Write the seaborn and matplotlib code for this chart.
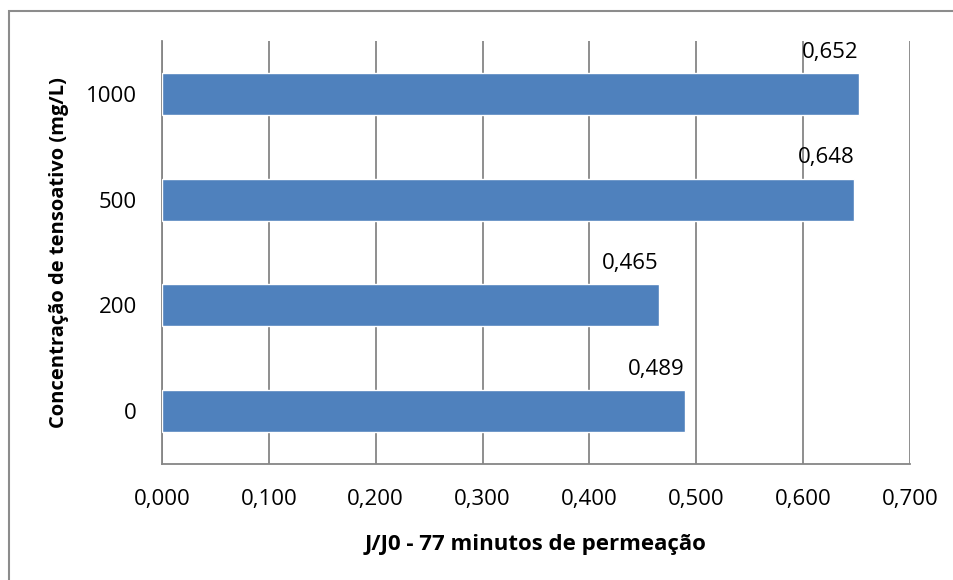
import matplotlib
matplotlib.use("Agg")
import matplotlib.pyplot as plt
from matplotlib.patches import Rectangle
from matplotlib.ticker import FuncFormatter
import seaborn as sns
import pandas as pd

# Surfactant concentration (mg/L) and normalised flux J/J0 after 77 min
categories = ["1000", "500", "200", "0"]
flux_ratio = [0.652, 0.648, 0.465, 0.489]
x_ticks = [0.0, 0.1, 0.2, 0.3, 0.4, 0.5, 0.6, 0.7]

df = pd.DataFrame({"conc": categories, "ratio": flux_ratio})

sns.set_theme(style="white")
plt.rcParams["font.family"] = ["Open Sans", "DejaVu Sans"]

W, H = 954, 580
fig = plt.figure(figsize=(W / 100, H / 100), dpi=100)
ax = fig.add_axes([162 / W, 1 - 464 / H, (910 - 162) / W, (464 - 41) / H])

bar_color = "#4F81BD"
grid_color = "#868686"
fs = 16

sns.barplot(data=df, x="ratio", y="conc", order=categories, orient="h",
            color=bar_color, saturation=1, width=0.395, ax=ax, zorder=3)

ax.set_xlim(0, 0.7)
ax.set_xticks(x_ticks)
ax.xaxis.set_major_formatter(FuncFormatter(lambda v, p: f"{v:.3f}".replace(".", ",")))
ax.grid(axis="x", color=grid_color, linewidth=1.3, zorder=0)
ax.grid(axis="y", visible=False)
ax.set_axisbelow(True)

for side in ["top", "right"]:
    ax.spines[side].set_visible(False)
for side in ["left", "bottom"]:
    ax.spines[side].set_color(grid_color)
    ax.spines[side].set_linewidth(1.3)

ax.tick_params(axis="x", length=0, pad=18, labelsize=fs, labelcolor="black")
ax.tick_params(axis="y", length=0, pad=18, labelsize=fs, labelcolor="black")

ax.set_xlabel("J/J0 - 77 minutos de permeação", fontsize=16,
              fontweight="bold", labelpad=17, color="black")
ax.set_ylabel("Concentração de tensoativo (mg/L)", fontsize=14.5,
              fontweight="bold", labelpad=12, color="black")

# value labels above each bar end
for i, v in enumerate(flux_ratio):
    ax.annotate(f"{v:.3f}".replace(".", ","), xy=(v, i), xytext=(0, 30),
                textcoords="offset points", ha="right", va="center",
                fontsize=fs, color="black")

# chart frame
fig.patches.append(Rectangle((9 / W, -0.05), 1.2, 1 - 11 / H + 0.05,
                             transform=fig.transFigure, fill=False,
                             edgecolor="#8c8c8c", linewidth=1.5))

fig.savefig("out.png", dpi=100, facecolor="white")
